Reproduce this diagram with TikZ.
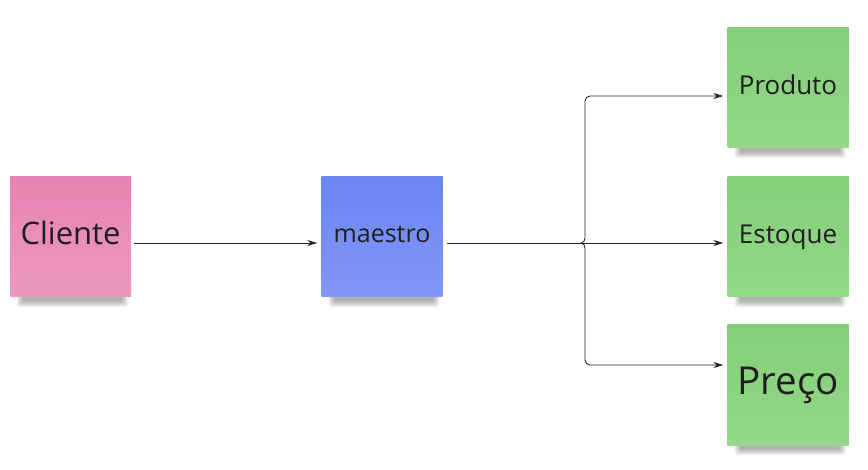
\documentclass[tikz,border=0pt]{standalone}
\usepackage{fontspec}
\setmainfont{Open Sans}
\usetikzlibrary{arrows.meta,backgrounds,calc}
\definecolor{pinkT}{HTML}{E783B2}
\definecolor{pinkB}{HTML}{EC98C1}
\definecolor{blueT}{HTML}{6C83F2}
\definecolor{blueB}{HTML}{8298F7}
\definecolor{greenT}{HTML}{83CF78}
\definecolor{greenB}{HTML}{93D987}
\definecolor{ink}{HTML}{1E1E1E}
\tikzset{
  note/.style={minimum width=121pt,minimum height=120pt,inner sep=0pt,text=ink,align=center},
  pinknote/.style={note,top color=pinkT,bottom color=pinkB},
  bluenote/.style={note,top color=blueT,bottom color=blueB},
  greennote/.style={note,top color=greenT,bottom color=greenB},
  conn/.style={line width=0.9pt,draw=black!85},
  arr/.style={conn,-{Stealth[length=10pt,width=6pt]}}
}
\newcommand{\noteshadow}[1]{%
  \foreach \i in {0,...,6}{%
    \fill[black,opacity=0.05,rounded corners=3pt]
      ([xshift={7pt+\i pt},yshift={-10pt+\i pt}]#1.south west) rectangle
      ([xshift={-3pt-\i pt},yshift=10pt]#1.south east);
  }%
}
\begin{document}
\begin{tikzpicture}[x=1pt,y=-1pt]
\useasboundingbox (0,0) rectangle (868,470);
% notes
\node[pinknote]  (cl) at (70.5,237)  {\raisebox{9pt}{\fontsize{31}{36}\selectfont Cliente}};
\node[bluenote]  (ma) at (382,237)   {\raisebox{6pt}{\fontsize{25}{30}\selectfont maestro}};
\node[greennote] (pr) at (788,88)    {\raisebox{7pt}{\fontsize{26}{30}\selectfont Produto}};
\node[greennote] (es) at (788,237)   {\raisebox{5pt}{\fontsize{26}{30}\selectfont Estoque}};
\node[greennote] (pc) at (788,385)   {\raisebox{6pt}{\fontsize{38.5}{44}\selectfont Preço}};
\begin{scope}[on background layer]
  \noteshadow{cl}\noteshadow{ma}\noteshadow{pr}\noteshadow{es}\noteshadow{pc}
\end{scope}
% connectors
\coordinate (fork) at (581,243);
\coordinate (bx) at (585,243);
\coordinate (tp) at ([xshift=-4pt,yshift=-8pt]pr.west);
\coordinate (tb) at ([xshift=-4pt,yshift=20pt]pc.west);
\draw[arr] ([xshift=3pt,yshift=-6pt]cl.east) -- ([xshift=-4pt,yshift=-6pt]ma.west);
\draw[conn] ([xshift=4pt,yshift=-6pt]ma.east) -- (fork);
\draw[arr] (fork) -- ([xshift=-4pt,yshift=-6pt]es.west);
\draw[arr] (fork) to[out=0,in=-90] ([yshift=5pt]bx) [rounded corners=5pt] -- (bx |- tp) -- (tp);
\draw[arr] (fork) to[out=0,in=90] ([yshift=-5pt]bx) [rounded corners=5pt] -- (bx |- tb) -- (tb);
\end{tikzpicture}
\end{document}
